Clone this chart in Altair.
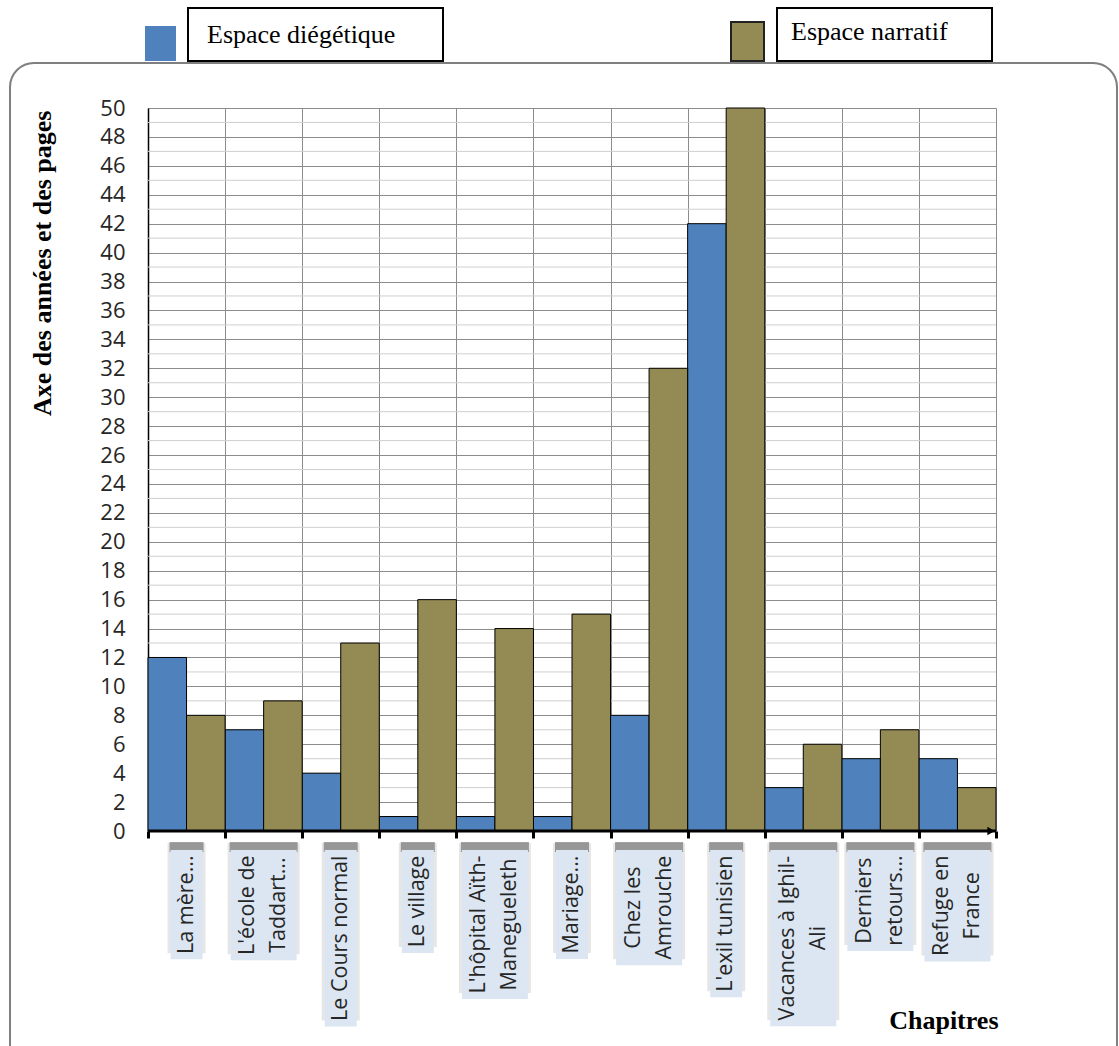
import altair as alt
import pandas as pd

# ---------------- data ----------------
chapters = ["La mère...", "L'école de\nTaddart...", "Le Cours normal", "Le village",
            "L'hôpital Aïth-\nManegueleth", "Mariage...", "Chez les\nAmrouche",
            "L'exil tunisien", "Vacances à Ighil-\nAli", "Derniers\nretours...",
            "Refuge en\nFrance"]
series = ["Espace diégétique", "Espace narratif"]
diegetique = [12, 7, 4, 1, 1, 1, 8, 42, 3, 5, 5]
narratif = [8, 9, 13, 16, 14, 15, 32, 50, 6, 7, 3]
colors = ["#4f81bd", "#948a54"]
y_ticks = list(range(0, 51, 2))
minor_ticks = list(range(1, 50, 2))

W, H = 848, 723
ppu = H / 50.0
LABEL_SIZE = 21.5
LINE_H = 31

# approximate Open Sans advance widths (em) used to size the label boxes
_adv = {"a": .556, "b": .613, "c": .480, "d": .613, "e": .561, "f": .345, "g": .546,
        "h": .615, "i": .258, "j": .258, "k": .529, "l": .258, "m": .934, "n": .615,
        "o": .601, "p": .613, "q": .613, "r": .405, "s": .477, "t": .353, "u": .615,
        "v": .499, "w": .776, "x": .522, "y": .500, "z": .468, " ": .260, "'": .203,
        ".": .258, "-": .322, "A": .633, "C": .631, "D": .739, "F": .517, "I": .279,
        "L": .519, "M": .907, "R": .612, "T": .556, "V": .605, "è": .561, "é": .561,
        "ô": .601, "ï": .258, "à": .556}


def text_width(s):
    return sum(_adv.get(ch, .56) for ch in s) * LABEL_SIZE


bars_df = pd.DataFrame({
    "chapter": chapters * 2,
    "series": [series[0]] * len(chapters) + [series[1]] * len(chapters),
    "value": diegetique + narratif,
})

lab_rows = []
for c in chapters:
    lines = c.split("\n")
    L = max(text_width(s) for s in lines) + 11
    lab_rows.append({
        "chapter": c, "nlines": len(lines),
        "btop": -19 / ppu, "bbot": -(19 + L) / ppu, "bmid": -(19 + L / 2) / ppu,
        "stop": -12 / ppu, "sbot": -(19 + L - 6) / ppu,
        "ttop": -11 / ppu, "tbot": -21 / ppu,
    })
lab_df = pd.DataFrame(lab_rows)

serif = "Liberation Serif"
sans = "Open Sans"

x_enc = alt.X("chapter:N", sort=chapters,
              scale=alt.Scale(domain=chapters, paddingInner=0, paddingOuter=0),
              axis=alt.Axis(labels=False, domain=False, ticks=True, tickBand="extent",
                            tickColor="black", tickWidth=3, tickSize=7,
                            grid=True, gridColor="#8c8c8c", gridWidth=1,
                            title="Chapitres", titleFont=serif, titleFontSize=26,
                            titleFontWeight="bold", titleColor="black",
                            titleX=W + 2, titleY=197, titleAlign="right",
                            titleBaseline="alphabetic", titleAnchor="end"))

y_scale = alt.Scale(domain=[0, 50], nice=False, zero=True)
y_axis = alt.Axis(values=y_ticks, grid=True, gridColor="#8c8c8c", gridWidth=1,
                  ticks=False, labelPadding=23, labelFont=sans, labelFontSize=22,
                  labelColor="#262626", domain=True, domainColor="black", domainWidth=1.5,
                  title="Axe des années et des pages", titleFont=serif, titleFontSize=26,
                  titleFontWeight="bold", titleColor="black", titleAngle=270,
                  titleX=-106, titleY=2, titleAlign="right", titleBaseline="middle")


def y_enc(field):
    return alt.Y(field, type="quantitative", scale=y_scale, axis=y_axis)


color_scale = alt.Scale(domain=series, range=colors)

minor = alt.Chart(pd.DataFrame({"v": minor_ticks})).mark_rule(
    color="#cfcfcf", strokeWidth=1).encode(y=y_enc("v"))

bars = alt.Chart(bars_df).mark_bar(stroke="black", strokeWidth=1).encode(
    x=x_enc,
    xOffset=alt.XOffset("series:N", sort=series,
                        scale=alt.Scale(domain=series, paddingInner=0, paddingOuter=0)),
    y=y_enc("value"),
    color=alt.Color("series:N", scale=color_scale, legend=None),
)

baseline = alt.Chart(pd.DataFrame({"v": [0]})).mark_rule(
    color="black", strokeWidth=3).encode(y=y_enc("v"))

arrow = alt.Chart(pd.DataFrame({"v": [0]})).mark_point(
    shape="triangle-right", filled=True, color="black", size=70, opacity=1).encode(
    x=alt.value(W - 5), y=y_enc("v"))


def box_layers(nl, width):
    d = lab_df[lab_df["nlines"] == nl]
    shadow = alt.Chart(d).mark_bar(width=width + 6, color="#777777", opacity=0.18).encode(
        x=x_enc, y=y_enc("stop"), y2="sbot:Q")
    top_shadow = alt.Chart(d).mark_bar(width=width + 2, color="#555555", opacity=0.55).encode(
        x=x_enc, y=y_enc("ttop"), y2="tbot:Q")
    box = alt.Chart(d).mark_bar(width=width, color="#dce6f2").encode(
        x=x_enc, y=y_enc("btop"), y2="bbot:Q")
    text = alt.Chart(d).mark_text(
        angle=270, align="center", baseline="middle", lineBreak="\n",
        dy=-(nl - 1) * LINE_H / 2,
        font=sans, fontSize=LABEL_SIZE, lineHeight=LINE_H, color="#262626").encode(
        x=x_enc, y=y_enc("bmid"), text="chapter:N")
    return [shadow, top_shadow, box, text]


one = pd.DataFrame({"series": [series[0]]})
two = pd.DataFrame({"series": [series[1]]})
frame = alt.Chart(one).mark_rect(
    cornerRadius=24, fillOpacity=0, stroke="#7f7f7f", strokeWidth=2).encode(
    x=alt.value(-138), x2=alt.value(969), y=alt.value(-45), y2=alt.value(965))

leg1_sq = alt.Chart(one).mark_rect().encode(
    x=alt.value(-3), x2=alt.value(28), y=alt.value(-82), y2=alt.value(-47),
    color=alt.Color("series:N", scale=color_scale, legend=None))
leg1_box = alt.Chart(one).mark_rect(fill="white", stroke="black", strokeWidth=2).encode(
    x=alt.value(40), x2=alt.value(295), y=alt.value(-100), y2=alt.value(-47))
leg1_txt = alt.Chart(one).mark_text(align="left", baseline="alphabetic", font=serif,
                                    fontSize=26, color="black").encode(
    x=alt.value(59), y=alt.value(-65), text="series:N")
leg2_sq = alt.Chart(two).mark_rect(stroke="#222222", strokeWidth=2).encode(
    x=alt.value(583), x2=alt.value(616), y=alt.value(-86), y2=alt.value(-47),
    color=alt.Color("series:N", scale=color_scale, legend=None))
leg2_box = alt.Chart(two).mark_rect(fill="white", stroke="black", strokeWidth=2).encode(
    x=alt.value(629), x2=alt.value(844), y=alt.value(-100), y2=alt.value(-47))
leg2_txt = alt.Chart(two).mark_text(align="left", baseline="alphabetic", font=serif,
                                    fontSize=26, color="black").encode(
    x=alt.value(643), y=alt.value(-68), text="series:N")

layers = [frame, minor, bars, baseline, arrow] + box_layers(1, 32) + box_layers(2, 66) + \
         [leg1_sq, leg1_box, leg1_txt, leg2_sq, leg2_box, leg2_txt]

chart = alt.layer(*layers).properties(
    width=W, height=H,
    autosize=alt.AutoSizeParams(type="none"),
    padding={"left": 148, "top": 108, "right": 123, "bottom": 215},
    background="white",
).configure_view(stroke=None)

chart.save("out.html", embed_options={"renderer": "svg", "actions": False})
